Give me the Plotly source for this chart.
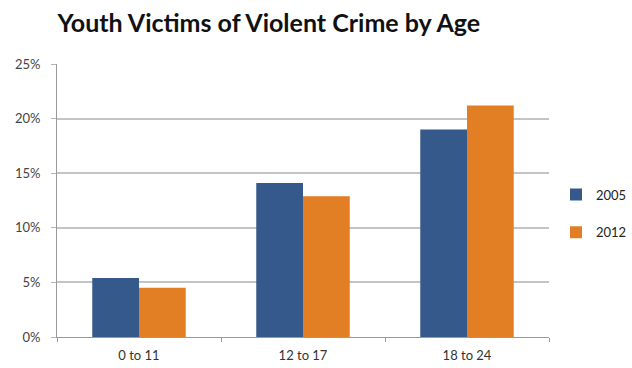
import plotly.graph_objects as go

categories = ["0 to 11", "12 to 17", "18 to 24"]
series_names = ["2005", "2012"]
values_2005 = [5.4, 14.1, 19.0]
values_2012 = [4.5, 12.9, 21.2]
y_tick_vals = [0, 5, 10, 15, 20, 25]
y_tick_text = ["0%", "5%", "10%", "15%", "20%", "25%"]

colors = {"2005": "#36598B", "2012": "#E27F25"}

fig = go.Figure()
for name, vals, grp in [("2005", values_2005, "a"), ("2012", values_2012, "b")]:
    fig.add_trace(go.Bar(
        x=categories, y=vals, name=name,
        marker=dict(color=colors[name], line=dict(width=0)),
        legendgroup=grp,
    ))

fig.update_layout(
    width=632, height=368,
    margin=dict(l=57, r=83, t=64, b=31, autoexpand=False),
    paper_bgcolor="white", plot_bgcolor="white",
    barmode="group", bargap=0.43, bargroupgap=0,
    font=dict(family="Lato", size=13, color="#333333"),
    title=dict(
        text="<b>Youth Victims of Violent Crime by Age</b>",
        font=dict(family="Lato", size=25, color="#111111"),
        x=272/632, xanchor="center", xref="paper",
        y=1-23/368, yanchor="middle", yref="container",
    ),
    legend=dict(
        x=1.0 + 7/492, xanchor="left", y=0.5 - 13/273, yanchor="middle",
        xref="paper", yref="paper",
        font=dict(size=13, color="#222222"),
        traceorder="grouped", tracegroupgap=18,
        bgcolor="rgba(0,0,0,0)",
    ),
    showlegend=True,
)

fig.update_xaxes(
    showline=True, linecolor="#9a9a9a", linewidth=1,
    ticks="outside", tickson="boundaries", ticklen=4, tickcolor="#9a9a9a",
    showgrid=False, tickfont=dict(size=13, color="#333333"),
    ticklabelstandoff=6,
)
fig.update_yaxes(
    range=[0, 25], tickmode="array", tickvals=y_tick_vals, ticktext=y_tick_text,
    showline=True, linecolor="#9a9a9a", linewidth=1,
    ticks="outside", ticklen=5, tickcolor="#b5b5b5",
    showgrid=True, gridcolor="#c4c4c4", gridwidth=2,
    zeroline=False,
    tickfont=dict(size=13, color="#444444"),
    ticklabelstandoff=8,
)

fig.write_html("out.html")
